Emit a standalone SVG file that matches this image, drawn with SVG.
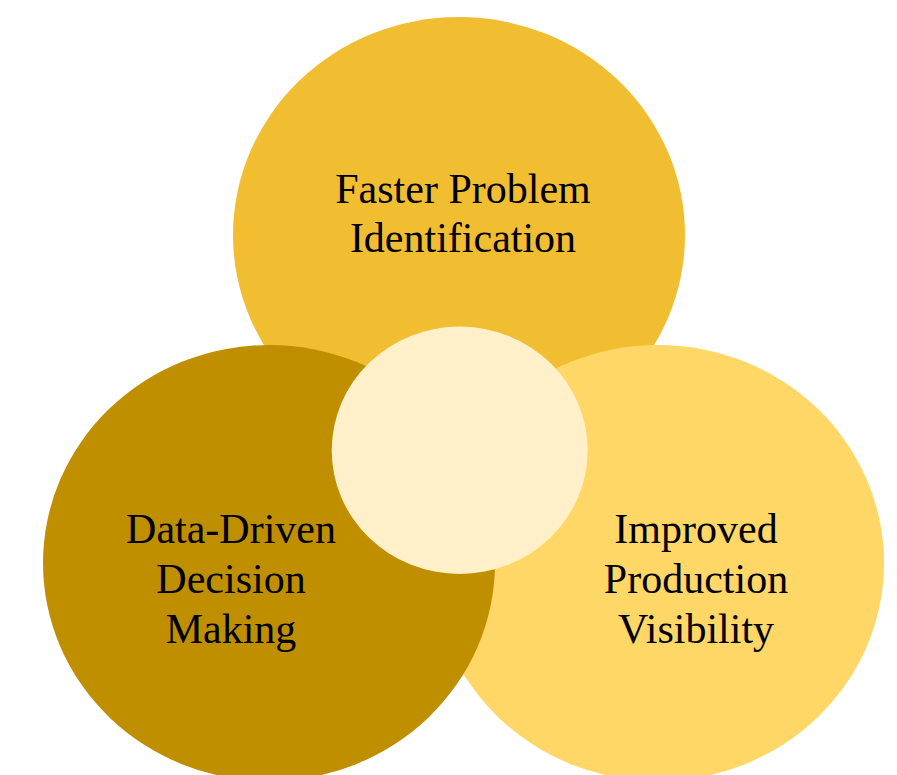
<svg xmlns="http://www.w3.org/2000/svg" width="897" height="775" viewBox="0 0 897 775">
<style>
  .lbl { font-family: "Liberation Serif", "Times New Roman", serif; font-size: 42px; fill: #000000; text-anchor: middle; }
</style>
<rect x="0" y="0" width="897" height="775" fill="#FFFFFF"/>
<g id="node-faster">
  <ellipse cx="459" cy="235" rx="226" ry="218" fill="#F0BE30"/>
  <text class="lbl"><tspan x="463" y="203">Faster Problem</tspan><tspan x="463" y="252">Identification</tspan></text>
</g>
<g id="node-visibility">
  <ellipse cx="658" cy="563" rx="226" ry="218" fill="#FFD766"/>
  <text class="lbl"><tspan x="696" y="543">Improved</tspan><tspan x="696" y="593">Production</tspan><tspan x="696" y="643">Visibility</tspan></text>
</g>
<g id="node-data">
  <ellipse cx="269" cy="563" rx="226" ry="218" fill="#BF8F00"/>
  <text class="lbl"><tspan x="231" y="543">Data-Driven</tspan><tspan x="231" y="593">Decision</tspan><tspan x="231" y="643">Making</tspan></text>
</g>
<g id="node-center">
  <ellipse cx="459.7" cy="450.3" rx="128" ry="123.7" fill="#FFF0C9"/>
</g>
<g id="connectors"></g>
</svg>
